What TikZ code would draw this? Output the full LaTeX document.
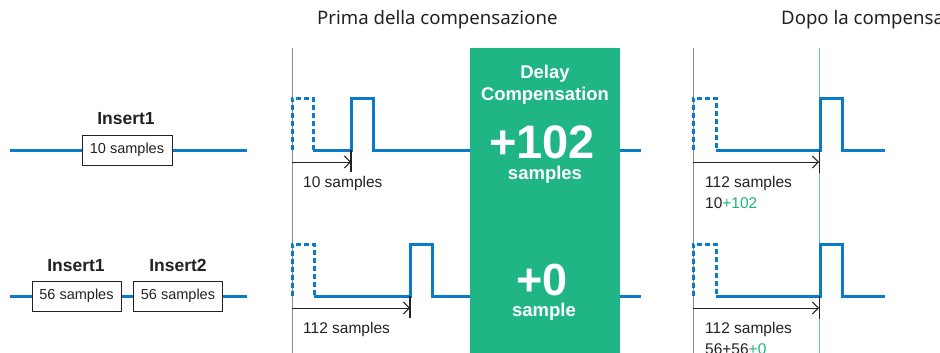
\documentclass[tikz,border=0pt]{standalone}
\usepackage{fontspec}
\setmainfont{Liberation Sans}
\newfontfamily\titlefont{Noto Sans}
\usetikzlibrary{arrows.meta}
\definecolor{wblue}{HTML}{0A7BC9}
\definecolor{dgreen}{HTML}{20B585}
\definecolor{lgreen}{HTML}{5CC9A0}
\definecolor{gline}{HTML}{8A8A8A}
\definecolor{txt}{HTML}{222222}
\begin{document}
\begin{tikzpicture}[x=1pt,y=-1pt,
  wave/.style={wblue, line width=3pt, line join=miter},
  dwave/.style={wblue, line width=3pt, dash pattern=on 5pt off 3pt, line join=miter},
  sbox/.style={draw=txt, line width=1pt, fill=white, minimum width=89pt, minimum height=30pt, inner sep=0pt, font=\fontsize{14.5}{16}\selectfont, text=txt},
  ins/.style={anchor=base, font=\fontsize{17.5}{20}\bfseries, text=txt},
  lbl/.style={anchor=base west, font=\fontsize{15.5}{18}\selectfont, text=txt, inner sep=0pt},
  ttl/.style={anchor=base west, font=\titlefont\fontsize{18.6}{21}\selectfont, text=txt, inner sep=0pt},
  wtxt/.style={anchor=base, text=white, inner sep=0pt},
  arr/.style={txt, line width=0.9pt, -{Straight Barb[length=6pt,width=12pt]}},
  tick/.style={txt, line width=1.2pt},
  vline/.style={gline, line width=1pt},
  gvline/.style={lgreen, line width=1.5pt}
]
\useasboundingbox (0,0) rectangle (940,353);
\clip (0,0) rectangle (940,353);
\fill[white] (0,0) rectangle (940,353);

% titles
\node[ttl] (t1) at (317,25) {Prima della compensazione};
\node[ttl] (t2) at (781,25) {Dopo la compensazione};

% left: inserts
\node[sbox, minimum width=90pt] (b0) at (127,150) {10 samples};
\node[ins] (i0) at (126,124) {Insert1};
\draw[wave] (10,150) -- (b0.west);
\draw[wave] (b0.east) -- (247,150);

\node[sbox] (b1) at (76.5,296) {56 samples};
\node[sbox] (b2) at (178,296) {56 samples};
\node[ins] (i1) at (76,271) {Insert1};
\node[ins] (i2) at (178,271) {Insert2};
\draw[wave] (10,296) -- (b1.west);
\draw[wave] (b1.east) -- (b2.west);
\draw[wave] (b2.east) -- (247,296);

% green compensation box
\node[fill=dgreen, minimum width=150pt, minimum height=320pt, inner sep=0pt, anchor=north west] (gb) at (470,48) {};
\node[wtxt, font=\fontsize{18.4}{20}\bfseries] (d1) at (545,79) {Delay};
\node[wtxt, font=\fontsize{18.4}{20}\bfseries] (d2) at (545,100) {Compensation};
\node[wtxt, font=\fontsize{47}{50}\bfseries] (d3) at (542,158) {+102};
\node[wtxt, font=\fontsize{18.5}{20}\bfseries] (d4) at (545,179) {samples};
\node[wtxt, font=\fontsize{45}{50}\bfseries] (d5) at (542,295) {+0};
\node[wtxt, font=\fontsize{18.5}{20}\bfseries] (d6) at (544,316) {sample};

% vertical reference lines
\draw[vline] (292,48) -- (292,353);
\draw[vline] (693,48) -- (693,353);
\draw[gvline] (819.5,48) -- (819.5,353);

% middle row 1
\draw[dwave] (292,150) -- (292,98) -- (313,98) -- (313,150);
\draw[wave] (313,150) -- (351,150) -- (351,98) -- (373,98) -- (373,150) -- (gb.west |- 0,150);
\draw[wave] (gb.east |- 0,150) -- (641,150);
\draw[arr] (292,162) -- (351,162);
\draw[tick] (351,150) -- (351,172);
\node[lbl] (l1) at (303,187) {10 samples};

% middle row 2
\draw[dwave] (292,296) -- (292,244) -- (314,244) -- (314,296);
\draw[wave] (314,296) -- (410,296) -- (410,244) -- (432,244) -- (432,296) -- (gb.west |- 0,296);
\draw[wave] (gb.east |- 0,296) -- (641,296);
\draw[arr] (292,308) -- (410,308);
\draw[tick] (410,296) -- (410,318);
\node[lbl] (l2) at (303,333) {112 samples};

% right row 1
\draw[dwave] (693,150) -- (693,98) -- (716,98) -- (716,150);
\draw[wave] (716,150) -- (820,150) -- (820,98) -- (842,98) -- (842,150) -- (885,150);
\draw[arr] (693,162) -- (819,162);
\draw[tick] (819.5,150) -- (819.5,173);
\node[lbl] (r1) at (705,187) {112 samples};
\node[lbl] (r2) at (705,208) {10\textcolor{dgreen}{+102}};

% right row 2
\draw[dwave] (693,296) -- (693,244) -- (716,244) -- (716,296);
\draw[wave] (716,296) -- (820,296) -- (820,244) -- (842,244) -- (842,296) -- (885,296);
\draw[arr] (693,308) -- (819,308);
\draw[tick] (819.5,296) -- (819.5,319);
\node[lbl] (r3) at (705,333) {112 samples};
\node[lbl] (r4) at (705,354.5) {56+56\textcolor{dgreen}{+0}};
\end{tikzpicture}
\end{document}
